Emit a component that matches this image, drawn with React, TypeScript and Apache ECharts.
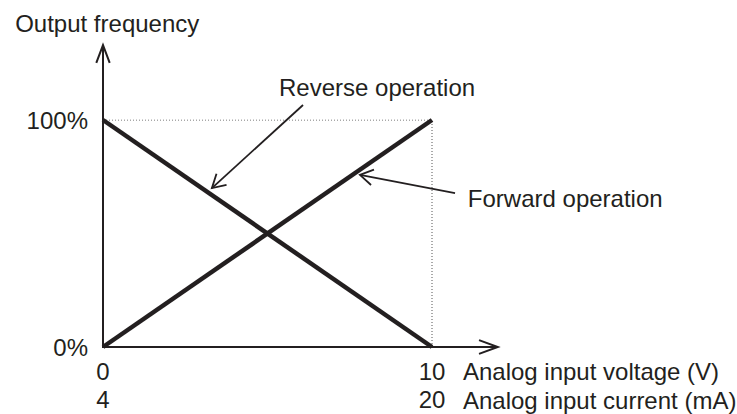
import { useEffect, useRef } from 'react';
import * as echarts from 'echarts';

// Data
const voltage = [0, 10]; // V
const current = [4, 20]; // mA
const forwardPct = [0, 100];
const reversePct = [100, 0];
const yTickValues = [0, 100];

// Axis extents (data units) for the arrowed axis lines
const X_AXIS_END = 12;
const Y_AXIS_END = 133;

const INK = '#231f20';
const FONT = '"Liberation Sans", Arial, Helvetica, sans-serif';
const FS = 24;

// Annotation anchors in data coordinates
const titleAnchor = [-2.67, 142.3];
const reverseLabel = [5.35, 114.5];
const forwardLabel = [11.09, 65.6];
const reverseArrow = { from: [6.08, 106.6], to: [3.31, 70.0] };
const forwardArrow = { from: [10.7, 67.8], to: [7.81, 75.8] };
const voltageName = [10.94, -11.0];
const currentName = [10.94, -23.4];

function head(tip: number[], from: number[], len: number, ang: number) {
  const dx = from[0] - tip[0];
  const dy = from[1] - tip[1];
  const n = Math.hypot(dx, dy) || 1;
  const ux = dx / n, uy = dy / n;
  const rot = (a: number) => [
    tip[0] + len * (ux * Math.cos(a) - uy * Math.sin(a)),
    tip[1] + len * (ux * Math.sin(a) + uy * Math.cos(a)),
  ];
  return [rot(ang), tip, rot(-ang)];
}

export default function App() {
  const ref = useRef<HTMLDivElement>(null);
  useEffect(() => {
    const chart = echarts.init(ref.current!, null, { renderer: 'svg' });
    const labelStyle = { color: INK, fontSize: FS, fontFamily: FONT };
    const maxY = yTickValues[yTickValues.length - 1];
    chart.setOption({
      animation: false,
      grid: { left: 103, right: 305, top: 120, bottom: 67 },
      xAxis: [
        {
          type: 'value', min: voltage[0], max: voltage[1],
          axisLine: { show: false }, axisTick: { show: false }, splitLine: { show: false },
          axisLabel: { ...labelStyle, margin: 12, customValues: voltage, showMinLabel: true, showMaxLabel: true },
        },
        {
          type: 'value', min: current[0], max: current[1], position: 'bottom', offset: 28,
          axisLine: { show: false }, axisTick: { show: false }, splitLine: { show: false },
          axisLabel: { ...labelStyle, margin: 12, customValues: current, showMinLabel: true, showMaxLabel: true },
        },
      ],
      yAxis: {
        type: 'value', min: 0, max: maxY,
        axisLine: { show: false }, axisTick: { show: false }, splitLine: { show: false },
        axisLabel: { ...labelStyle, margin: 15, formatter: '{value}%', customValues: yTickValues, showMinLabel: true, showMaxLabel: true },
      },
      series: [
        {
          type: 'line', symbol: 'none', silent: true, z: 1,
          data: [[voltage[0], maxY], [voltage[1], maxY], [voltage[1], 0]],
          lineStyle: { color: '#555', width: 1, type: [1, 2] },
        },
        {
          type: 'line', symbol: 'none', z: 3,
          data: voltage.map((v, i) => [v, forwardPct[i]]),
          lineStyle: { color: INK, width: 4.5 },
        },
        {
          type: 'line', symbol: 'none', z: 3,
          data: voltage.map((v, i) => [v, reversePct[i]]),
          lineStyle: { color: INK, width: 4.5 },
        },
      ],
    });

    const p = (pt: number[]) => chart.convertToPixel({ xAxisIndex: 0, yAxisIndex: 0 }, pt) as number[];
    const origin = p([0, 0]);
    const yTip = p([0, Y_AXIS_END]);
    const xTip = p([X_AXIS_END, 0]);
    const line = (pts: number[][], w: number) => ({
      type: 'polyline', shape: { points: pts }, z: 100,
      style: { stroke: INK, lineWidth: w, fill: null },
    });
    const text = (pt: number[], s: string) => {
      const q = p(pt);
      return {
        type: 'text', x: q[0], y: q[1], z: 100,
        style: { text: s, fill: INK, fontSize: FS, fontFamily: FONT, align: 'left', verticalAlign: 'middle' },
      };
    };
    const rf = p(reverseArrow.from), rt = p(reverseArrow.to);
    const ff = p(forwardArrow.from), ft = p(forwardArrow.to);
    chart.setOption({
      graphic: [
        line([[origin[0], origin[1] + 1], yTip], 2),
        line(head(yTip, origin, 19, 0.36), 2),
        line([[origin[0] - 1, origin[1]], xTip], 2),
        line(head(xTip, origin, 20, 0.35), 2),
        line([rf, rt], 1.8),
        line(head(rt, rf, 15, 0.52), 1.8),
        line([ff, ft], 1.8),
        line(head(ft, ff, 15, 0.55), 1.8),
        text(titleAnchor, 'Output frequency'),
        text(reverseLabel, 'Reverse operation'),
        text(forwardLabel, 'Forward operation'),
        text(voltageName, 'Analog input voltage (V)'),
        text(currentName, 'Analog input current (mA)'),
      ],
    });
    return () => chart.dispose();
  }, []);
  return (
    <div
      ref={ref}
      style={{ position: 'fixed', left: 0, top: 0, width: 737, height: 414, background: '#fff' }}
    />
  );
}
